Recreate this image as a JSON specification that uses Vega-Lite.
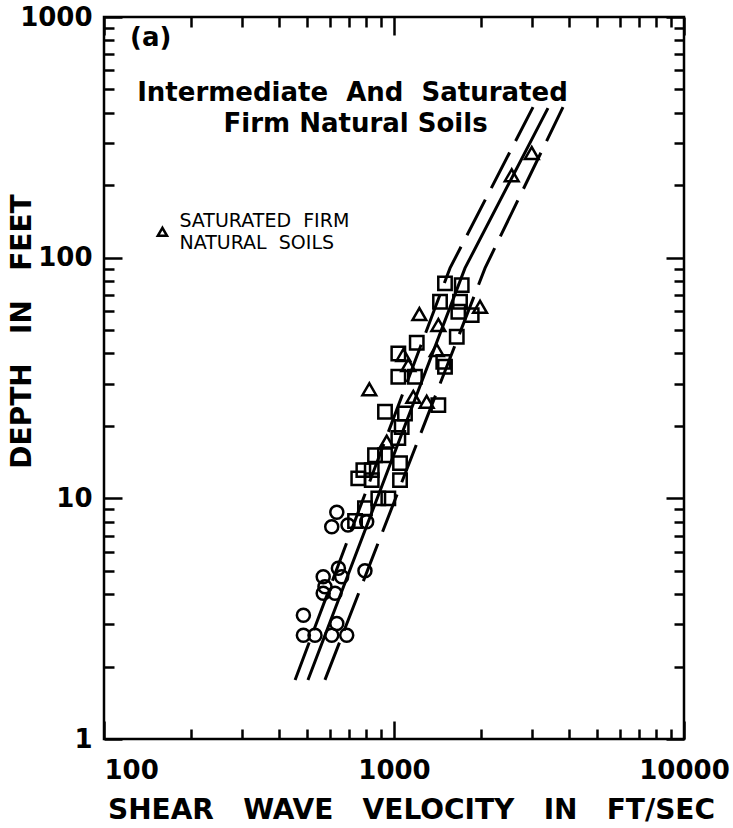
{
  "$schema": "https://vega.github.io/schema/vega-lite/v6.json",
  "width": 580,
  "height": 722,
  "autosize": "none",
  "padding": {"left": 104, "top": 17, "right": 49, "bottom": 89},
  "background": "white",
  "config": {
    "view": {"stroke": "black", "strokeWidth": 2.5},
    "font": "DejaVu Sans",
    "axis": {"titleColor": "black", "labelColor": "black"}
  },
  "datasets": {
    "pts": [
      {"v": 635, "d": 8.75, "type": "circle"},
      {"v": 610, "d": 7.62, "type": "circle"},
      {"v": 805, "d": 7.99, "type": "circle"},
      {"v": 694, "d": 7.75, "type": "circle"},
      {"v": 643, "d": 5.12, "type": "circle"},
      {"v": 570, "d": 4.72, "type": "circle"},
      {"v": 660, "d": 4.72, "type": "circle"},
      {"v": 578, "d": 4.29, "type": "circle"},
      {"v": 626, "d": 4.03, "type": "circle"},
      {"v": 570, "d": 4.03, "type": "circle"},
      {"v": 794, "d": 5.0, "type": "circle"},
      {"v": 487, "d": 3.27, "type": "circle"},
      {"v": 487, "d": 2.7, "type": "circle"},
      {"v": 534, "d": 2.7, "type": "circle"},
      {"v": 635, "d": 3.02, "type": "circle"},
      {"v": 610, "d": 2.7, "type": "circle"},
      {"v": 687, "d": 2.7, "type": "circle"},
      {"v": 1499, "d": 78.2, "type": "square"},
      {"v": 1712, "d": 76.9, "type": "square"},
      {"v": 1441, "d": 65.6, "type": "square"},
      {"v": 1689, "d": 65.6, "type": "square"},
      {"v": 1853, "d": 57.7, "type": "square"},
      {"v": 1667, "d": 59.6, "type": "square"},
      {"v": 1198, "d": 44.3, "type": "square"},
      {"v": 1646, "d": 46.9, "type": "square"},
      {"v": 1499, "d": 35.2, "type": "square"},
      {"v": 1479, "d": 36.9, "type": "square"},
      {"v": 1035, "d": 40.0, "type": "square"},
      {"v": 1035, "d": 32.0, "type": "square"},
      {"v": 1181, "d": 32.0, "type": "square"},
      {"v": 1422, "d": 24.4, "type": "square"},
      {"v": 931, "d": 22.9, "type": "square"},
      {"v": 1091, "d": 22.5, "type": "square"},
      {"v": 1063, "d": 19.8, "type": "square"},
      {"v": 1035, "d": 17.8, "type": "square"},
      {"v": 1049, "d": 14.0, "type": "square"},
      {"v": 1049, "d": 11.9, "type": "square"},
      {"v": 860, "d": 15.1, "type": "square"},
      {"v": 931, "d": 15.1, "type": "square"},
      {"v": 784, "d": 13.1, "type": "square"},
      {"v": 838, "d": 13.1, "type": "square"},
      {"v": 753, "d": 12.1, "type": "square"},
      {"v": 838, "d": 11.9, "type": "square"},
      {"v": 883, "d": 10.0, "type": "square"},
      {"v": 956, "d": 10.0, "type": "square"},
      {"v": 794, "d": 9.09, "type": "square"},
      {"v": 734, "d": 8.05, "type": "square"},
      {"v": 1223, "d": 58.3, "type": "triangle"},
      {"v": 1980, "d": 62.5, "type": "triangle"},
      {"v": 1422, "d": 52.5, "type": "triangle"},
      {"v": 1077, "d": 39.4, "type": "triangle"},
      {"v": 822, "d": 28.4, "type": "triangle"},
      {"v": 1166, "d": 26.4, "type": "triangle"},
      {"v": 1296, "d": 25.2, "type": "triangle"},
      {"v": 1404, "d": 41.3, "type": "triangle"},
      {"v": 1120, "d": 35.8, "type": "triangle"},
      {"v": 944, "d": 17.2, "type": "triangle"},
      {"v": 2985, "d": 272, "type": "triangle"},
      {"v": 2546, "d": 220, "type": "triangle"}
    ],
    "curves": [
      {"v": 456, "d": 1.76, "line": "lower"},
      {"v": 1560, "d": 90.5, "line": "lower"},
      {"v": 3016, "d": 422, "line": "lower"},
      {"v": 505, "d": 1.76, "line": "mean"},
      {"v": 1757, "d": 90.5, "line": "mean"},
      {"v": 3396, "d": 418, "line": "mean"},
      {"v": 578, "d": 1.76, "line": "upper"},
      {"v": 2060, "d": 90.5, "line": "upper"},
      {"v": 3826, "d": 422, "line": "upper"}
    ],
    "notes": [
      {"v": 123, "d": 757, "text": "(a)", "kind": "tag"},
      {"v": 719, "d": 446, "text": "Intermediate\u00a0\u00a0And\u00a0\u00a0Saturated", "kind": "head"},
      {"v": 737, "d": 333, "text": "Firm Natural Soils", "kind": "head"},
      {"v": 182, "d": 134.4, "text": "SATURATED\u00a0\u00a0FIRM", "kind": "leg"},
      {"v": 182, "d": 108.3, "text": "NATURAL\u00a0\u00a0SOILS", "kind": "leg"}
    ],
    "legsym": [
      {"v": 159, "d": 128}
    ]
  },
  "resolve": {"axis": {"x": "independent", "y": "independent"}},
  "layer": [
    {
      "data": {"name": "pts"},
      "mark": {"type": "point", "filled": false, "stroke": "black", "strokeWidth": 2.5, "opacity": 1},
      "encoding": {
        "x": {
          "field": "v", "type": "quantitative",
          "scale": {"type": "log", "domain": [100, 10000], "nice": false},
          "axis": {
            "orient": "bottom",
            "values": [100, 200, 300, 400, 500, 600, 700, 800, 900, 1000, 2000, 3000, 4000, 5000, 6000, 7000, 8000, 9000, 10000],
            "labelExpr": "(datum.value == 100 || datum.value == 1000 || datum.value == 10000) ? ('' + datum.value) : ''",
            "labelFont": "DejaVu Sans", "labelFontWeight": "bold", "labelFontSize": 26, "labelColor": "black",
            "labelBaseline": "top",
            "labelPadding": 36,
            "labelAlign": {"condition": {"test": "datum.value == 100", "value": "left"}, "value": "center"},
            "labelOverlap": false,
            "labelFlush": false,
            "tickSize": {"condition": {"test": "datum.value == 100 || datum.value == 1000 || datum.value == 10000", "value": -18}, "value": -10},
            "tickColor": "black", "tickWidth": 2.5,
            "domain": false, "grid": false,
            "title": "SHEAR\u00a0\u00a0\u00a0WAVE\u00a0\u00a0\u00a0VELOCITY\u00a0\u00a0\u00a0IN\u00a0\u00a0\u00a0FT/SEC",
            "titleFont": "DejaVu Sans", "titleFontWeight": "bold", "titleFontSize": 28, "titleColor": "black",
            "titleBaseline": "alphabetic",
            "titleX": 307,
            "titleY": 79
          }
        },
        "y": {
          "field": "d", "type": "quantitative",
          "scale": {"type": "log", "domain": [1, 1000], "nice": false},
          "axis": {
            "orient": "left",
            "values": [1, 2, 3, 4, 5, 6, 7, 8, 9, 10, 20, 30, 40, 50, 60, 70, 80, 90, 100, 200, 300, 400, 500, 600, 700, 800, 900, 1000],
            "labelExpr": "(datum.value == 1 || datum.value == 10 || datum.value == 100 || datum.value == 1000) ? ('' + datum.value) : ''",
            "labelFont": "DejaVu Sans", "labelFontWeight": "bold", "labelFontSize": 26, "labelColor": "black",
            "labelPadding": 30,
            "labelOverlap": false,
            "labelFlush": false,
            "tickSize": {"condition": {"test": "datum.value == 1 || datum.value == 10 || datum.value == 100 || datum.value == 1000", "value": -18}, "value": -10},
            "tickColor": "black", "tickWidth": 2.5,
            "domain": false, "grid": false,
            "title": "DEPTH\u00a0\u00a0\u00a0IN\u00a0\u00a0\u00a0FEET",
            "titleFont": "DejaVu Sans", "titleFontWeight": "bold", "titleFontSize": 28, "titleColor": "black",
            "titleAngle": 270,
            "titleBaseline": "middle",
            "titleX": -82,
            "titleY": 314
          }
        },
        "shape": {
          "field": "type", "type": "nominal",
          "scale": {"domain": ["circle", "square", "triangle"], "range": ["circle", "square", "triangle-up"]},
          "legend": null
        },
        "size": {
          "field": "type", "type": "nominal",
          "scale": {"domain": ["circle", "square", "triangle"], "range": [170, 190, 130]},
          "legend": null
        }
      }
    },
    {
      "data": {"name": "curves"},
      "transform": [{"filter": "datum.line != 'mean'"}],
      "mark": {"type": "line", "stroke": "black", "strokeWidth": 3, "strokeDash": [40, 13]},
      "encoding": {
        "x": {
          "field": "v", "type": "quantitative",
          "axis": {
            "orient": "top",
            "values": [100, 200, 300, 400, 500, 600, 700, 800, 900, 1000, 2000, 3000, 4000, 5000, 6000, 7000, 8000, 9000, 10000],
            "labels": false, "title": null, "domain": false, "grid": false,
            "tickSize": {"condition": {"test": "datum.value == 100 || datum.value == 1000 || datum.value == 10000", "value": -18}, "value": -10},
            "tickColor": "black", "tickWidth": 2.5
          }
        },
        "y": {
          "field": "d", "type": "quantitative",
          "axis": {
            "orient": "right",
            "values": [1, 2, 3, 4, 5, 6, 7, 8, 9, 10, 20, 30, 40, 50, 60, 70, 80, 90, 100, 200, 300, 400, 500, 600, 700, 800, 900, 1000],
            "labels": false, "title": null, "domain": false, "grid": false,
            "tickSize": {"condition": {"test": "datum.value == 1 || datum.value == 10 || datum.value == 100 || datum.value == 1000", "value": -18}, "value": -10},
            "tickColor": "black", "tickWidth": 2.5
          }
        },
        "detail": {"field": "line", "type": "nominal"}
      }
    },
    {
      "data": {"name": "curves"},
      "transform": [{"filter": "datum.line == 'mean'"}],
      "mark": {"type": "line", "stroke": "black", "strokeWidth": 3},
      "encoding": {
        "x": {"field": "v", "type": "quantitative", "axis": null},
        "y": {"field": "d", "type": "quantitative", "axis": null}
      }
    },
    {
      "data": {"name": "legsym"},
      "mark": {"type": "point", "shape": "triangle-up", "filled": false, "stroke": "black", "strokeWidth": 2.5, "size": 85, "opacity": 1},
      "encoding": {
        "x": {"field": "v", "type": "quantitative", "axis": null},
        "y": {"field": "d", "type": "quantitative", "axis": null}
      }
    },
    {
      "data": {"name": "notes"},
      "transform": [{"filter": "datum.kind == 'head'"}],
      "mark": {"type": "text", "font": "DejaVu Sans", "fontWeight": "bold", "fontSize": 26, "align": "center", "baseline": "alphabetic", "color": "black"},
      "encoding": {
        "x": {"field": "v", "type": "quantitative", "axis": null},
        "y": {"field": "d", "type": "quantitative", "axis": null},
        "text": {"field": "text"}
      }
    },
    {
      "data": {"name": "notes"},
      "transform": [{"filter": "datum.kind == 'tag'"}],
      "mark": {"type": "text", "font": "DejaVu Sans", "fontWeight": "bold", "fontSize": 26, "align": "left", "baseline": "alphabetic", "color": "black"},
      "encoding": {
        "x": {"field": "v", "type": "quantitative", "axis": null},
        "y": {"field": "d", "type": "quantitative", "axis": null},
        "text": {"field": "text"}
      }
    },
    {
      "data": {"name": "notes"},
      "transform": [{"filter": "datum.kind == 'leg'"}],
      "mark": {"type": "text", "font": "DejaVu Sans", "fontSize": 19, "align": "left", "baseline": "alphabetic", "color": "black"},
      "encoding": {
        "x": {"field": "v", "type": "quantitative", "axis": null},
        "y": {"field": "d", "type": "quantitative", "axis": null},
        "text": {"field": "text"}
      }
    }
  ]
}
